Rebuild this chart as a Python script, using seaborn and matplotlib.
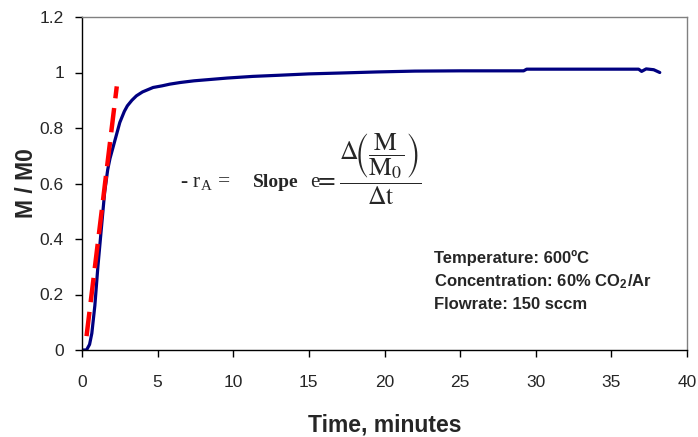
import numpy as np
import pandas as pd
import matplotlib
matplotlib.use("Agg")
import matplotlib.pyplot as plt
import seaborn as sns

# data
time_min = [0, 0.3, 0.5, 0.65, 0.85, 1.05, 1.3, 1.5, 1.7, 1.85, 2.0, 2.2, 2.5,
            2.8, 3.0, 3.3, 3.6, 4.0, 4.7, 5.3, 5.8, 6.5, 7.4, 8.5, 9.6, 11.3,
            13, 15, 17, 19.5, 22, 25, 29.2, 29.4, 33, 36.8, 37.0, 37.3, 37.8, 38.2]
m_ratio = [0, 0, 0.02, 0.06, 0.16, 0.30, 0.45, 0.57, 0.65, 0.69, 0.72, 0.76, 0.82,
           0.86, 0.88, 0.90, 0.916, 0.93, 0.946, 0.952, 0.958, 0.964, 0.970, 0.975,
           0.980, 0.986, 0.99, 0.995, 0.998, 1.002, 1.005, 1.006, 1.006, 1.012,
           1.012, 1.012, 1.004, 1.013, 1.01, 1.0]

# slope line (initial rate)
slope_t = [0.3, 2.3]
slope_y = [0.05, 0.95]

x_ticks = [0, 5, 10, 15, 20, 25, 30, 35, 40]
y_ticks = [0, 0.2, 0.4, 0.6, 0.8, 1, 1.2]
y_tick_labels = ["0", "0.2", "0.4", "0.6", "0.8", "1", "1.2"]

conditions = ["Temperature: 600ºC",
              "Concentration: 60% CO$_\\mathregular{2}$/Ar",
              "Flowrate: 150 sccm"]

sns.set_style("white")
plt.rcParams["font.family"] = ["Liberation Sans", "DejaVu Sans"]
plt.rcParams["mathtext.fontset"] = "stix"

df = pd.DataFrame({"t": time_min, "m": m_ratio})

fig = plt.figure(figsize=(6.98, 4.37), dpi=100)
ax = fig.add_axes([82 / 698, 87 / 437, 605 / 698, 333 / 437])

sns.lineplot(data=df, x="t", y="m", ax=ax, color="#000080", linewidth=2.3)
ax.plot(slope_t, slope_y, color="#ff0000", linewidth=3.2, dashes=(5.5, 2.2))

ax.set_xlim(0, 40)
ax.set_ylim(0, 1.2)
ax.set_xticks(x_ticks)
ax.set_xticklabels([str(v) for v in x_ticks], fontsize=12.5)
ax.set_yticks(y_ticks)
ax.set_yticklabels(y_tick_labels, fontsize=12.5)
ax.tick_params(direction="out", length=5, width=1, color="black",
               bottom=True, left=True)
ax.tick_params(axis="x", pad=13)
ax.tick_params(axis="y", pad=8)

for s in ["left", "bottom"]:
    ax.spines[s].set_color("black")
    ax.spines[s].set_linewidth(1)
for s in ["top", "right"]:
    ax.spines[s].set_color("#808080")
    ax.spines[s].set_linewidth(1)

ax.set_xlabel("Time, minutes", fontsize=16.5, fontweight="bold")
ax.set_ylabel("M / M0", fontsize=16.5, fontweight="bold")
ax.xaxis.set_label_coords(0.5, -0.19)
ax.yaxis.set_label_coords(-0.073, 0.5)

# rate equation
ax.text(6.45, 0.605, r"- r$_\mathregular{A}$ =", fontsize=15.5,
        family="Liberation Serif", va="center")
ax.text(11.3, 0.605, "Slope", fontsize=14, family="Liberation Serif",
        fontweight="bold", va="center")
ax.text(15.05, 0.605, "e", fontsize=15, family="Liberation Serif", va="center")
ax.text(15.35, 0.652,
        r"$=\dfrac{\Delta\!\left(\dfrac{\mathrm{M}}{\mathrm{M_0}}\right)}{\Delta \mathrm{t}}$",
        fontsize=18.5, va="center")

for i, line in enumerate(conditions):
    ax.text(23.3, 0.33 - i * 0.083, line, fontsize=12, fontweight="bold",
            va="center")

fig.savefig("out.png", dpi=100)
